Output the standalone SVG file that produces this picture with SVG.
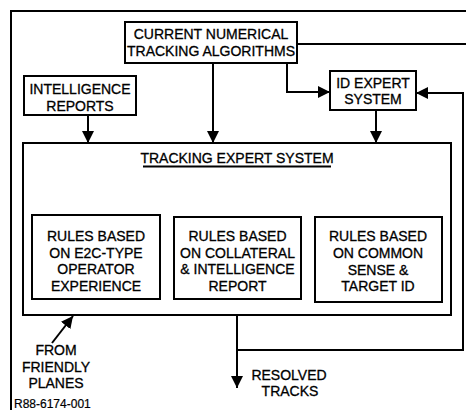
<svg xmlns="http://www.w3.org/2000/svg" width="466" height="410" viewBox="0 0 466 410">
  <style>
    .box { fill: #fff; stroke: #000; stroke-width: 2; }
    .ln { fill: none; stroke: #000; stroke-width: 2; }
    .arr { fill: none; stroke: #000; stroke-width: 2; marker-end: url(#head); }
    text { font-family: "Liberation Sans", Arial, sans-serif; font-size: 14px; fill: #000; stroke: #000; stroke-width: 0.3; text-anchor: middle; }
    .id { font-size: 12px; stroke-width: 0.2; text-anchor: start; }
  </style>
  <defs>
    <marker id="head" markerUnits="userSpaceOnUse" markerWidth="13" markerHeight="13" refX="12" refY="6" orient="auto">
      <path d="M0,0 L12,6 L0,12 Z" fill="#000"/>
    </marker>
  </defs>
  <rect width="466" height="410" fill="#fff"/>

  <!-- outer frame (left and top edges) -->
  <path class="ln" d="M11,410 V11 H466"/>

  <g id="connectors">
    <!-- numerical algorithms outputs -->
    <path class="ln" d="M297,44 H466"/>
    <path class="arr" d="M213,63 V143"/>
    <path class="arr" d="M287,63 V92 H330"/>
    <!-- ID expert into tracking system -->
    <path class="arr" d="M376,110 V143"/>
    <!-- intelligence reports into tracking system -->
    <path class="arr" d="M88,115 V143"/>
    <!-- title to rule boxes bus -->
    <path class="ln" d="M237,167 V217"/>
    <path class="ln" d="M97,193 H376"/>
    <path class="ln" d="M97,192 V216"/>
    <path class="ln" d="M376,192 V217"/>
    <!-- resolved tracks output and feedback loop -->
    <path class="arr" d="M237,315 V388"/>
    <path class="arr" d="M237,350 H463 V93 H416"/>
    <!-- friendly planes input -->
    <path class="arr" d="M52,343 L73,316"/>
  </g>

  <g id="current-numerical">
    <rect class="box" x="125" y="22" width="172" height="41"/>
    <text x="211" y="39">CURRENT NUMERICAL</text>
    <text x="211" y="56">TRACKING ALGORITHMS</text>
  </g>

  <g id="intelligence-reports">
    <rect class="box" x="24" y="76" width="112" height="39"/>
    <text x="80" y="94">INTELLIGENCE</text>
    <text x="80" y="111">REPORTS</text>
  </g>

  <g id="id-expert">
    <rect class="box" x="330" y="71" width="86" height="39"/>
    <text x="373" y="88">ID EXPERT</text>
    <text x="373" y="104">SYSTEM</text>
  </g>

  <g id="tracking-expert">
    <rect class="box" x="23" y="143" width="428" height="172" fill="none"/>
    <text x="237" y="163">TRACKING EXPERT SYSTEM</text>
    <path class="ln" d="M143,166.5 H331" stroke-width="1.5"/>
  </g>

  <g id="rules-e2c">
    <rect class="box" x="32" y="215" width="128" height="84"/>
    <text x="96" y="241">RULES BASED</text>
    <text x="96" y="258">ON E2C-TYPE</text>
    <text x="96" y="274">OPERATOR</text>
    <text x="96" y="291">EXPERIENCE</text>
  </g>

  <g id="rules-collateral">
    <rect class="box" x="174" y="217" width="127" height="82"/>
    <text x="237.5" y="241">RULES BASED</text>
    <text x="237.5" y="258">ON COLLATERAL</text>
    <text x="237.5" y="274">&amp; INTELLIGENCE</text>
    <text x="237.5" y="291">REPORT</text>
  </g>

  <g id="rules-common-sense">
    <rect class="box" x="315" y="217" width="127" height="85"/>
    <text x="378" y="241">RULES BASED</text>
    <text x="378" y="258">ON COMMON</text>
    <text x="378" y="275">SENSE &amp;</text>
    <text x="378" y="291">TARGET ID</text>
  </g>

  <g id="friendly-planes">
    <text x="56" y="355">FROM</text>
    <text x="56" y="372">FRIENDLY</text>
    <text x="56" y="388">PLANES</text>
  </g>

  <g id="resolved-tracks">
    <text x="289" y="380">RESOLVED</text>
    <text x="290" y="396">TRACKS</text>
  </g>

  <text class="id" x="14" y="408">R88-6174-001</text>
</svg>
